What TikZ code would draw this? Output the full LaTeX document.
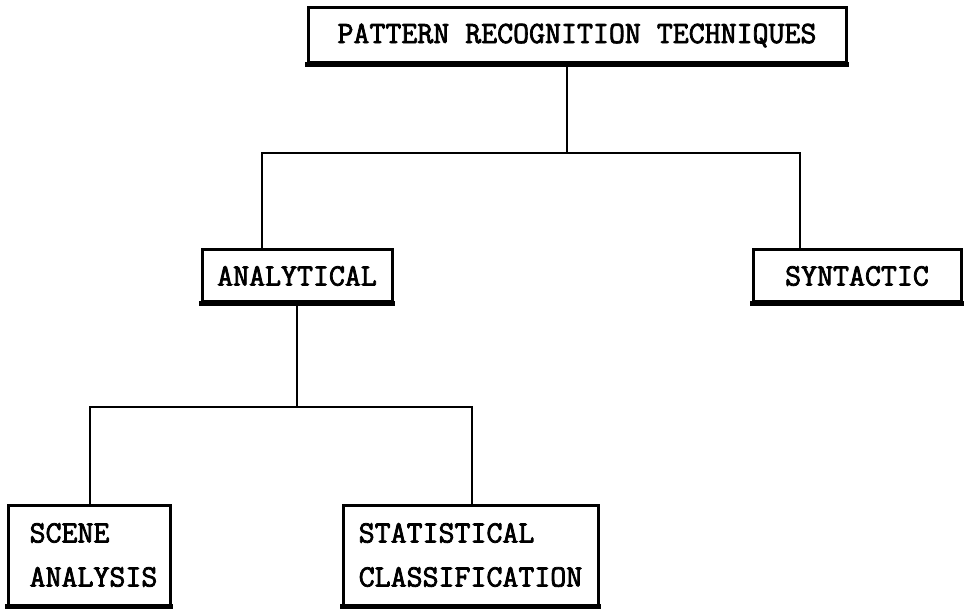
\documentclass[tikz,border=0pt]{standalone}
\usepackage{fontspec}
\newfontfamily\typewriter{Latin Modern Mono}[FakeBold=2.5]
\begin{document}
\begin{tikzpicture}[x=1pt,y=-1pt,
  box/.style={draw, line width=3pt, inner sep=0pt,
    font=\typewriter\fontsize{31}{44}\selectfont,
    align=left},
  heavy/.style={line width=4.6pt, line cap=butt},
  conn/.style={line width=2.4pt}]
\useasboundingbox (0,0) rectangle (964,609);

% boxes
\node[box, minimum width=538pt, minimum height=55pt] (top) at (577,35.5) {PATTERN RECOGNITION TECHNIQUES};
\node[box, minimum width=190pt, minimum height=52pt] (ana) at (297,276) {ANALYTICAL};
\node[box, minimum width=208pt, minimum height=52pt] (syn) at (857,276) {SYNTACTIC};
\node[box, minimum width=162pt, minimum height=100pt] (scene) at (89,555)
  {\hspace*{9pt}SCENE\\\hspace*{9pt}ANALYSIS};
\node[box, minimum width=255pt, minimum height=100pt] (stat) at (470.5,555)
  {STATISTICAL\\CLASSIFICATION};

% heavier lower edges of the typed boxes
\foreach \b in {top,ana,syn,scene,stat}
  \draw[heavy] ([xshift=-1.5pt]\b.south west) -- ([xshift=1.5pt]\b.south east);

% junction points of the tree
\coordinate (tj) at (567,153);
\coordinate (tl) at (262,153);
\coordinate (tr) at (800,153);
\coordinate (aj) at (297,407);
\coordinate (al) at (90,407);
\coordinate (ar) at (472,407);

% connectors
\draw[conn] (top.south -| tj) -- (tj);
\draw[conn] (tl |- ana.north) -- (tl) -- (tr) -- (tr |- syn.north);
\draw[conn] (ana.south -| aj) -- (aj);
\draw[conn] (al |- scene.north) -- (al) -- (ar) -- (ar |- stat.north);
\end{tikzpicture}
\end{document}
